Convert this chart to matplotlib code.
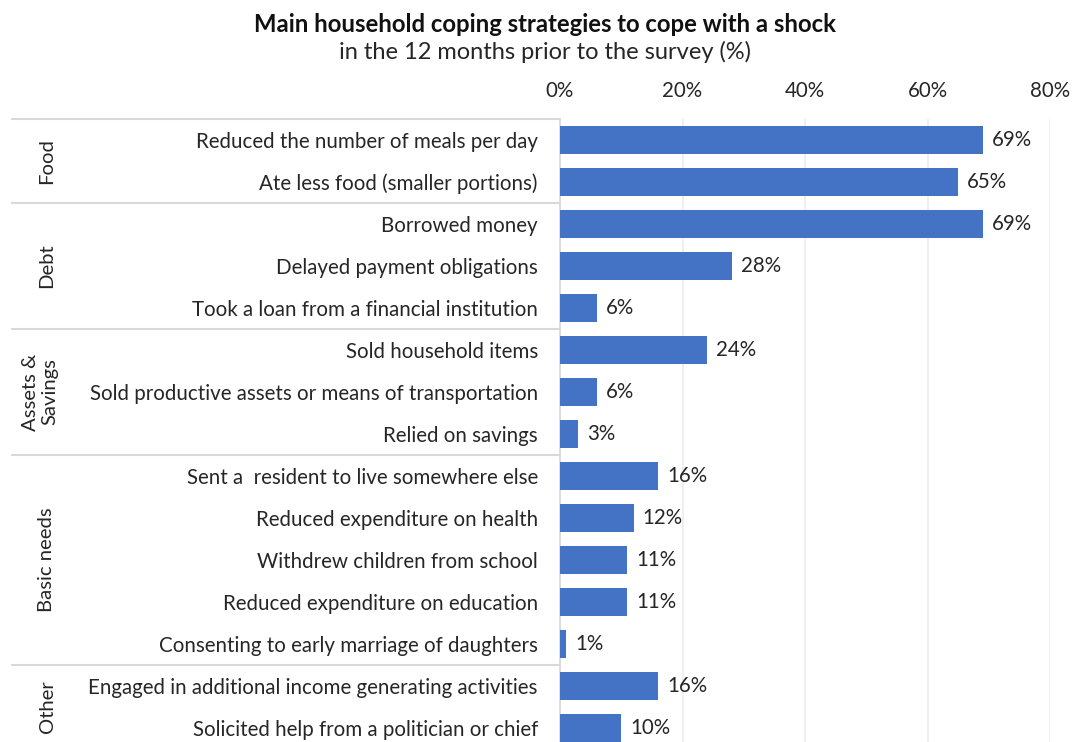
import matplotlib
matplotlib.use("Agg")
import matplotlib.pyplot as plt
import matplotlib.transforms as mtransforms

plt.rcParams['font.family'] = ['Lato', 'DejaVu Sans']

strategies = [
    "Reduced the number of meals per day",
    "Ate less food (smaller portions)",
    "Borrowed money",
    "Delayed payment obligations",
    "Took a loan from a financial institution",
    "Sold household items",
    "Sold productive assets or means of transportation",
    "Relied on savings",
    "Sent a  resident to live somewhere else",
    "Reduced expenditure on health",
    "Withdrew children from school",
    "Reduced expenditure on education",
    "Consenting to early marriage of daughters",
    "Engaged in additional income generating activities",
    "Solicited help from a politician or chief",
]
shares = [69, 65, 69, 28, 6, 24, 6, 3, 16, 12, 11, 11, 1, 16, 10]
groups = ["Food", "Debt", "Assets &\nSavings", "Basic needs", "Other"]
group_sizes = [2, 3, 3, 5, 2]

bar_color = "#4472C4"
text_color = "#262626"
line_color = "#d9d9d9"
fs = 14.8

W, H = 1072, 742
fig = plt.figure(figsize=(W / 100, H / 100), dpi=100)
# axes runs past the bottom edge so the last row is cut off
ax = fig.add_axes([560 / W, 1 - 749 / H, (1050 - 560) / W, (749 - 119) / H])

y = list(range(len(strategies)))
ax.barh(y, shares, height=0.65, color=bar_color, zorder=3)
for yi, v in zip(y, shares):
    ax.text(v + 1.5, yi, f"{v}%", va="center", ha="left",
            fontsize=fs, color=text_color)

ax.set_ylim(len(strategies) - 0.5, -0.5)
ax.set_xlim(0, 80)
ax.set_yticks(y, strategies, fontsize=fs, color=text_color)
ax.tick_params(axis="y", length=0, pad=16)
ax.xaxis.tick_top()
ax.set_xticks([0, 20, 40, 60, 80], ["0%", "20%", "40%", "60%", "80%"])
ax.tick_params(axis="x", length=0, pad=13, labelsize=fs, labelcolor=text_color)
ax.xaxis.grid(True, color="#ececec", linewidth=1.2, zorder=0)
for s in ["top", "right", "bottom"]:
    ax.spines[s].set_visible(False)
ax.spines["left"].set_color(line_color)
ax.spines["left"].set_linewidth(1.3)

# group separators and rotated group names on the left
trans = mtransforms.blended_transform_factory(fig.transFigure, ax.transData)
start = -0.5
for name, n in zip(groups, group_sizes):
    ax.plot([12 / W, 560 / W], [start, start], transform=trans, color=line_color,
            linewidth=1.5, clip_on=False)
    xpos = 40 if "\n" in name else 47
    ax.text(xpos / W, start + n / 2, name, transform=trans, rotation=90,
            ha="center", va="center", fontsize=14.6, color=text_color,
            linespacing=1.2, multialignment="center")
    start += n

fig.text(545 / W, 1 - 24 / H, "Main household coping strategies to cope with a shock",
         ha="center", va="center", fontsize=17.2, fontweight="bold", color="#111111")
fig.text(545 / W, 1 - 52 / H, "in the 12 months prior to the survey (%)",
         ha="center", va="center", fontsize=17, color=text_color)

fig.savefig("out.png", dpi=100, facecolor="white")
